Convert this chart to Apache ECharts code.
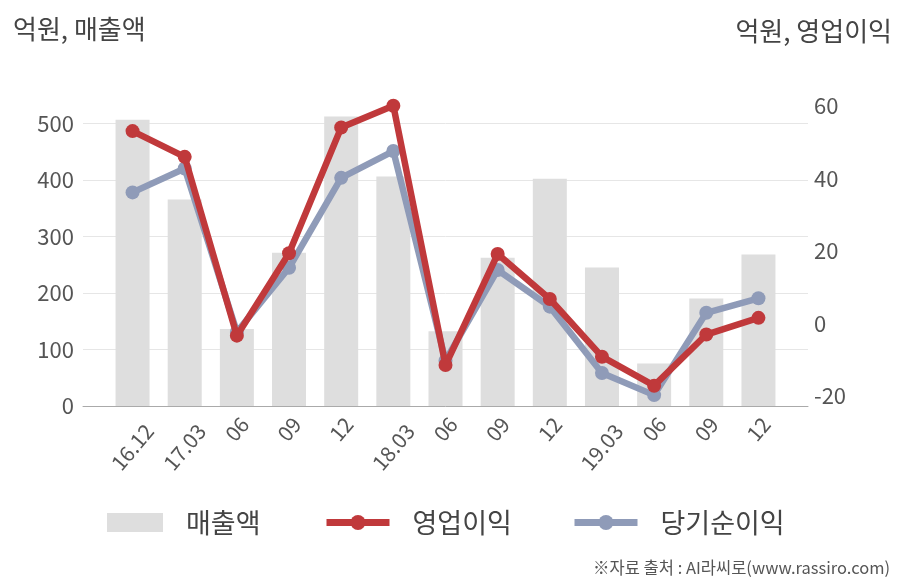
<!DOCTYPE html>
<html>
<head>
<meta charset="utf-8">
<script src="https://cdn.jsdelivr.net/npm/echarts@6/dist/echarts.min.js"></script>
<style>
html,body{margin:0;padding:0;background:#fff;}
#c{width:908px;height:580px;}
</style>
</head>
<body>
<div id="c"></div>
<script>
const categories = ['16.12','17.03','06','09','12','18.03','06','09','12','19.03','06','09','12'];
const sales = [506, 365, 136, 271, 512, 406, 132, 262, 402, 245, 75, 190, 268];
const operatingProfit = [53.0, 45.9, -3.4, 19.3, 54.0, 60.0, -11.5, 19.1, 6.7, -9.2, -17.2, -3.1, 1.5];
const netProfit = [36.1, 42.7, -2.4, 15.3, 40.1, 47.5, -10.3, 14.7, 4.6, -13.7, -19.8, 2.9, 6.9];
const leftTicks = [0, 100, 200, 300, 400, 500];
const rightTicks = [-20, 0, 20, 40, 60];

const FONT = '"Noto Sans CJK KR", "Open Sans", sans-serif';
const RED = '#c0393b';
const BLUE = '#8f9bb8';
const BAR = '#dedede';

const chart = echarts.init(document.getElementById('c'));
const idx = categories.map((_, i) => i);

const option = {
  animation: false,
  backgroundColor: '#fff',
  textStyle: { fontFamily: FONT },
  title: [
    { text: '억원, 매출액', left: 8, top: 11, textStyle: { fontSize: 26, fontWeight: 'normal', color: '#444', fontFamily: FONT } },
    { text: '억원, 영업이익', right: 11, top: 13, textStyle: { fontSize: 26, fontWeight: 'normal', color: '#444', fontFamily: FONT } },
    { text: '※자료 출처 : AI라씨로(www.rassiro.com)', right: 13, top: 554, textStyle: { fontSize: 16.5, fontWeight: 'normal', color: '#555', fontFamily: FONT } }
  ],
  legend: [
    { data: [{ name: '매출액', icon: 'rect' }], left: 102, top: 504, itemWidth: 56, itemHeight: 19, itemGap: 0,
      textStyle: { fontSize: 27, color: '#444', fontFamily: FONT, padding: [0, 0, 0, 18] } },
    { data: ['영업이익'], left: 318, top: 504, itemWidth: 63, itemHeight: 19, itemGap: 0,
      lineStyle: { width: 7 },
      textStyle: { fontSize: 27, color: '#444', fontFamily: FONT, padding: [0, 0, 0, 18] } },
    { data: ['당기순이익'], left: 566, top: 504, itemWidth: 63, itemHeight: 19, itemGap: 0,
      lineStyle: { width: 7 },
      textStyle: { fontSize: 27, color: '#444', fontFamily: FONT, padding: [0, 0, 0, 18] } }
  ],
  grid: { left: 83, right: 100, top: 105.7, bottom: 174, containLabel: false },
  xAxis: {
    type: 'value', min: -0.95, max: 12.95,
    axisLine: { show: true, lineStyle: { color: '#aaa', width: 1 } },
    axisTick: { show: false, customValues: idx },
    splitLine: { show: false },
    axisLabel: {
      customValues: idx,
      rotate: 50, align: 'center', verticalAlign: 'middle', margin: 23,
      fontSize: 21, color: '#555', fontFamily: FONT,
      formatter: function (v) {
        const s = categories[Math.round(v)];
        return s.length > 2 ? '{l|' + s + '}' : '{s|' + s + '}';
      },
      rich: {
        s: { fontSize: 21, color: '#555', fontFamily: FONT },
        l: { fontSize: 21, color: '#555', fontFamily: FONT, padding: [23, 28, 0, 0] }
      }
    }
  },
  yAxis: [
    {
      type: 'value', min: 0, max: 531,
      axisLine: { show: false }, axisTick: { show: false, customValues: leftTicks },
      splitLine: { show: true, lineStyle: { color: '#e6e6e6', width: 1 } },
      axisLabel: { customValues: leftTicks, fontSize: 22, color: '#555', margin: 9, fontFamily: FONT }
    },
    {
      type: 'value', min: -22.8, max: 60,
      axisLine: { show: false }, axisTick: { show: false, customValues: rightTicks },
      splitLine: { show: false },
      axisLabel: { customValues: rightTicks, fontSize: 22, color: '#555', margin: 6, fontFamily: FONT }
    }
  ],
  series: [
    {
      name: '매출액', type: 'bar', yAxisIndex: 0, barWidth: 34,
      itemStyle: { color: BAR },
      data: sales.map((v, i) => [i, v]), z: 1
    },
    {
      name: '영업이익', type: 'line', yAxisIndex: 1, clip: false,
      symbol: 'circle', symbolSize: 14,
      lineStyle: { color: RED, width: 6.5 }, itemStyle: { color: RED },
      data: operatingProfit.map((v, i) => [i, v]), z: 5
    },
    {
      name: '당기순이익', type: 'line', yAxisIndex: 1, clip: false,
      symbol: 'circle', symbolSize: 14,
      lineStyle: { color: BLUE, width: 6.5 }, itemStyle: { color: BLUE },
      data: netProfit.map((v, i) => [i, v]), z: 4
    }
  ]
};
chart.setOption(option);
</script>
</body>
</html>
